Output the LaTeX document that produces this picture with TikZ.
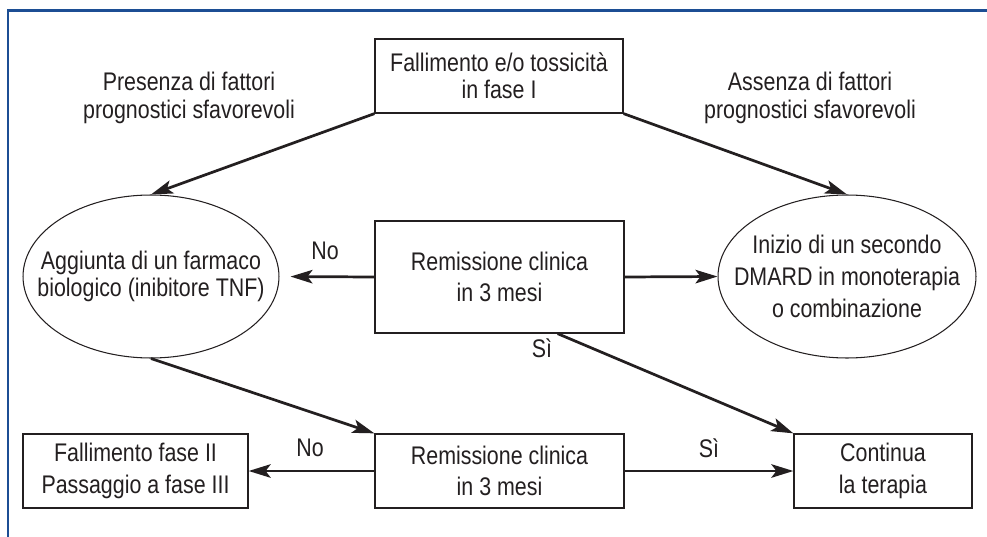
\documentclass[tikz,border=0pt]{standalone}
\usepackage{fontspec}
\setmainfont{Liberation Sans}[FakeStretch=0.84]
\usetikzlibrary{arrows.meta,shapes.geometric}
\definecolor{cornice}{RGB}{28,78,148}
\definecolor{nero}{RGB}{35,31,32}

\begin{document}
\begin{tikzpicture}[x=0.02cm,y=-0.02cm]
  \useasboundingbox (0,0) rectangle (987,537);

  % Cornice.
  \draw[color=cornice, line width=1.4pt] (8,537) -- (8,10.5) -- (987,10.5);

  % Stili.
  \tikzstyle{etichetta}=[font=\fontsize{14.5}{15.5}\selectfont, text=nero, align=center, inner sep=0pt]
  \tikzstyle{largo}=[font=\fontsize{14.5}{18}\selectfont]
  \tikzstyle{blocco}=[etichetta, rectangle, draw=nero, line width=0.75pt, minimum height=1.48cm]
  \tikzstyle{cerchio}=[ellipse, draw=nero, line width=0.6pt, inner sep=0pt]
  \tikzstyle{freccia}=[draw=nero, line width=1.55pt, -{Stealth[length=0.44cm, width=0.27cm, inset=0.1cm]}]

  % Blocchi.
  \node[blocco, minimum width=4.96cm] (fase1) at (499,76) {Fallimento e/o tossicità\\in fase I};
  \node[blocco, largo, minimum width=4.98cm, minimum height=2.24cm] (remiss1) at (499.5,277) {Remissione clinica\\in 3 mesi};
  \node[blocco, largo, minimum width=4.5cm] (fallimento) at (135.5,471) {Fallimento fase II\\Passaggio a fase III};
  \node[blocco, largo, minimum width=4.98cm] (remiss2) at (499.5,471) {Remissione clinica\\in 3 mesi};
  \node[blocco, largo, minimum width=3.56cm] (continua) at (883,471) {Continua\\la terapia};

  % Ellissi.
  \node[cerchio, minimum width=5.12cm, minimum height=3.26cm] (biologico) at (151,276.5) {};
  \node[etichetta] (biologico-testo) at (biologico) {Aggiunta di un farmaco\\biologico (inibitore TNF)};
  \node[cerchio, minimum width=5.16cm, minimum height=3.26cm] (dmard) at (847,276.5) {};
  \node[etichetta, largo] (dmard-testo) at (dmard) {Inizio di un secondo\\DMARD in monoterapia\\o combinazione};

  % Etichette.
  \node[etichetta] (presenza) at (189,98) {Presenza di fattori\\prognostici sfavorevoli};
  \node[etichetta] (assenza) at (810,98) {Assenza di fattori\\prognostici sfavorevoli};
  \node[etichetta] (no1) at (325,251) {No};
  \node[etichetta] (si1) at (542,348) {Sì};
  \node[etichetta] (no2) at (310,448) {No};
  \node[etichetta] (si2) at (709,448) {Sì};

  % Frecce.
  \path (fase1.south west) edge[freccia] (biologico.north);
  \path (fase1.south east) edge[freccia] (dmard.north);
  \path (remiss1.west) edge[freccia, shorten >=0.22cm] (biologico.east);
  \path (remiss1.east) edge[freccia] (dmard.west);
  \path ([xshift=-1.34cm]remiss1.south east) edge[freccia] (continua.north west);
  \path (biologico.south) edge[freccia] (remiss2.north west);
  \path (remiss2.west) edge[freccia] (fallimento.east);
  \path (remiss2.east) edge[freccia] (continua.west);
\end{tikzpicture}
\end{document}
